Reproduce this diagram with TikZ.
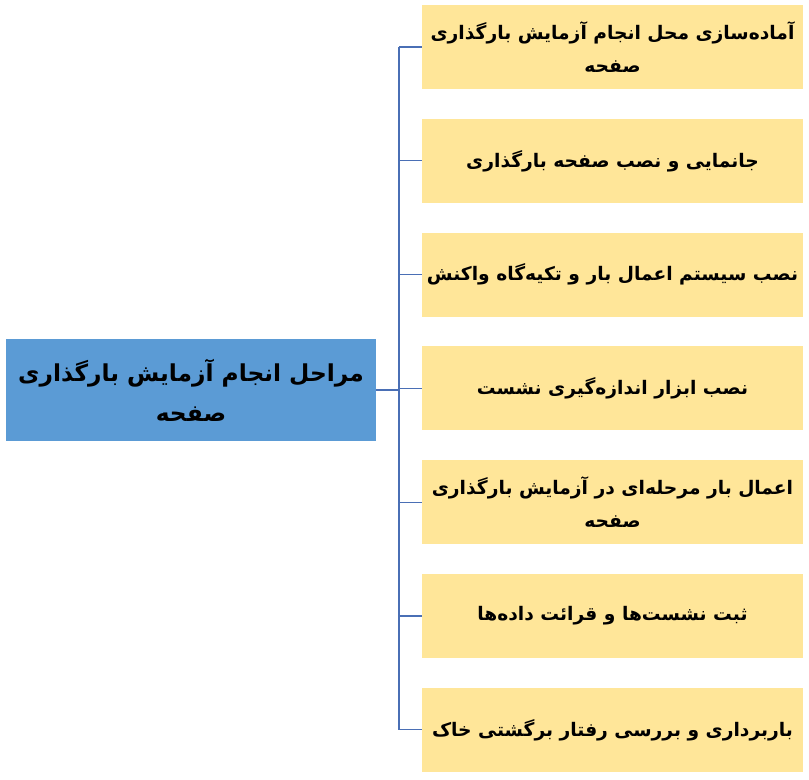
\documentclass[tikz,border=0pt]{standalone}
\usepackage{fontspec}
\usepackage{xcolor}
\newfontfamily\farsi[Script=Arabic]{DejaVu Sans}
\TeXXeTstate=1
\newcommand{\faline}[1]{\beginR #1\endR}
\definecolor{stepfill}{HTML}{FFE699}
\definecolor{mainfill}{HTML}{5B9BD5}
\definecolor{linkcol}{HTML}{4A6FB5}

\begin{document}
\begin{tikzpicture}[x=0.75pt,y=-0.75pt,
    stepbox/.style={fill=stepfill,minimum width=285.75pt,minimum height=63pt,
        align=center,font=\farsi\bfseries\fontsize{14}{25}\selectfont},
    mainbox/.style={fill=mainfill,minimum width=277.5pt,minimum height=76.5pt,
        align=center,font=\farsi\bfseries\fontsize{17.5}{30}\selectfont},
    link/.style={draw=linkcol,line width=0.8pt}]
\useasboundingbox (0,0) rectangle (809,780);
\path
    (191,390) node [mainbox] (main) {\faline{مراحل انجام آزمایش بارگذاری}\\\faline{صفحه}}
    (612.5,47) node [stepbox] (s1) {\faline{آماده‌سازی محل انجام آزمایش بارگذاری}\\\faline{صفحه}}
    (612.5,160.8) node [stepbox] (s2) {\faline{جانمایی و نصب صفحه بارگذاری}}
    (612.5,274.6) node [stepbox] (s3) {\faline{نصب سیستم اعمال بار و تکیه‌گاه واکنش}}
    (612.5,388.4) node [stepbox] (s4) {\faline{نصب ابزار اندازه‌گیری نشست}}
    (612.5,502.2) node [stepbox] (s5) {\faline{اعمال بار مرحله‌ای در آزمایش بارگذاری}\\\faline{صفحه}}
    (612.5,616) node [stepbox] (s6) {\faline{ثبت نشست‌ها و قرائت داده‌ها}}
    (612.5,729.8) node [stepbox] (s7) {\faline{باربرداری و بررسی رفتار برگشتی خاک}};
\coordinate (trunk) at (399,390);
\draw [link] (main.east) -- (trunk);
\draw [link] (trunk |- s1.west) -- (trunk |- s7.west);
\draw [link] (trunk |- s1.west) -- (s1.west);
\draw [link] (trunk |- s2.west) -- (s2.west);
\draw [link] (trunk |- s3.west) -- (s3.west);
\draw [link] (trunk |- s4.west) -- (s4.west);
\draw [link] (trunk |- s5.west) -- (s5.west);
\draw [link] (trunk |- s6.west) -- (s6.west);
\draw [link] (trunk |- s7.west) -- (s7.west);
\end{tikzpicture}
\end{document}
